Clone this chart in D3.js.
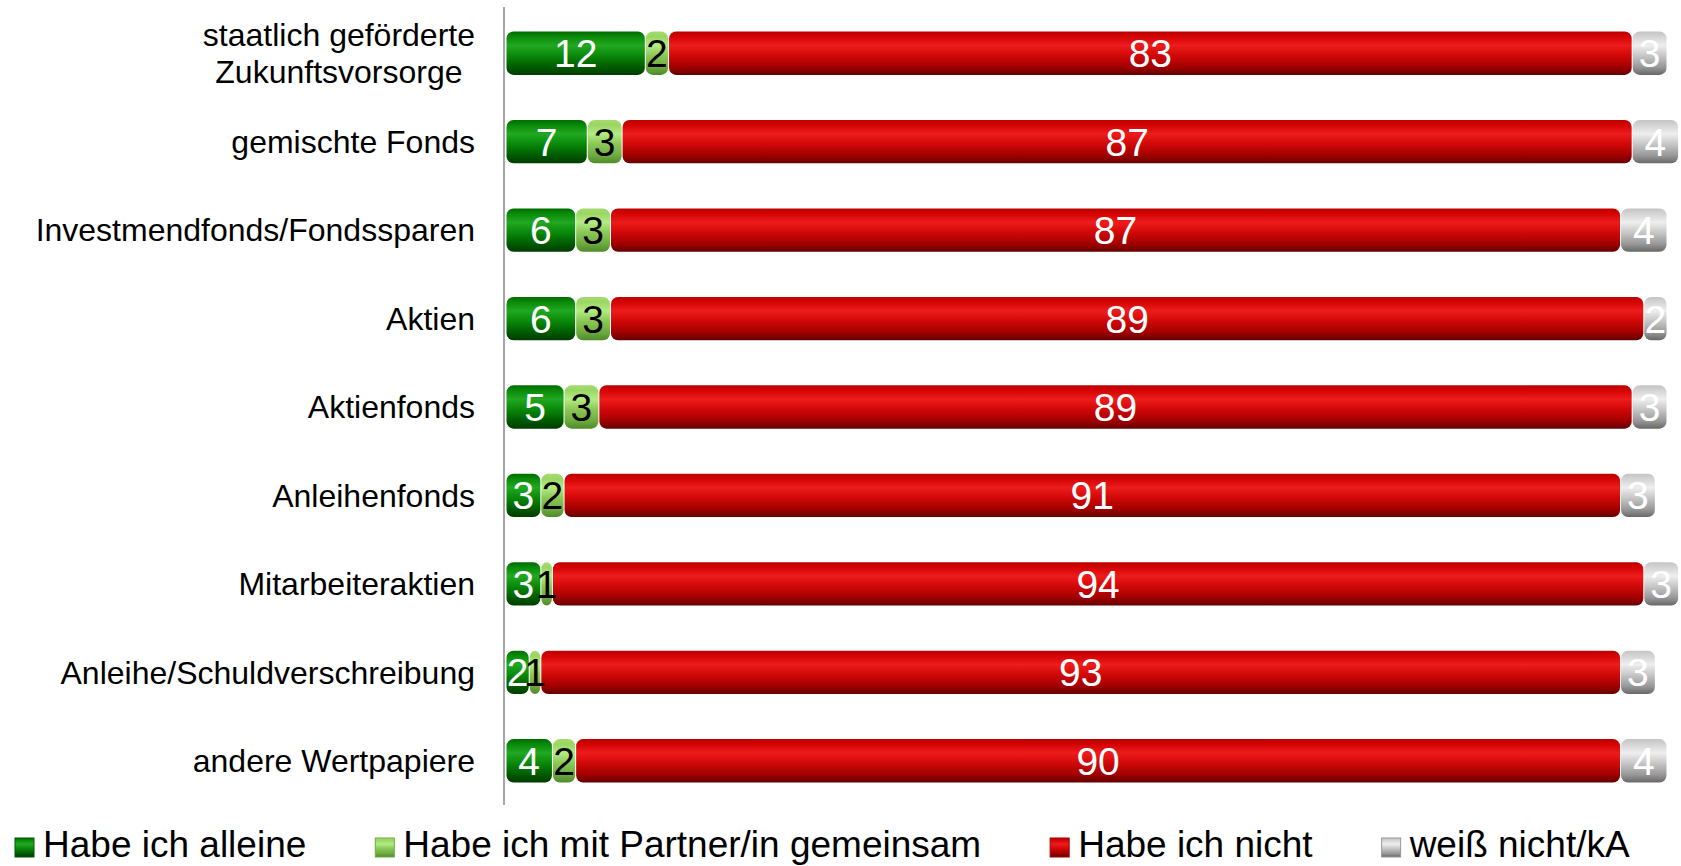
<!DOCTYPE html>
<html>
<head>
<meta charset="utf-8">
<title>Wertpapierbesitz</title>
<script src="https://d3js.org/d3.v7.min.js"></script>
<style>
    body { margin: 0; background: #fff; }
    text { font-family: "Liberation Sans", Arial, sans-serif; }
</style>
</head>
<body>
<script>
// categories (top to bottom)
var categories = [
    "staatlich geförderte\nZukunftsvorsorge",
    "gemischte Fonds",
    "Investmendfonds/Fondssparen",
    "Aktien",
    "Aktienfonds",
    "Anleihenfonds",
    "Mitarbeiteraktien",
    "Anleihe/Schuldverschreibung",
    "andere Wertpapiere"
];
var seriesNames = ["Habe ich alleine", "Habe ich mit Partner/in gemeinsam", "Habe ich nicht", "weiß nicht/kA"];
var alleine   = [12, 7, 6, 6, 5, 3, 3, 2, 4];
var partner   = [2, 3, 3, 3, 3, 2, 1, 1, 2];
var nicht     = [83, 87, 87, 89, 89, 91, 94, 93, 90];
var weissNicht = [3, 4, 4, 2, 3, 3, 3, 3, 4];

var seriesValues = [alleine, partner, nicht, weissNicht];
var textColors = ["#fff", "#000", "#fff", "#fff"];
// vertical gradient stops per series (3d bar look)
var gradStops = [
    ["#006c00", "#0a8a0a", "#22a822", "#0a8a0a", "#005a00", "#003c00"],
    ["#a4dc6c", "#9ad664", "#b4ec84", "#8cc858", "#6eaa40", "#4e8a28"],
    ["#bc0000", "#d40404", "#ee1c1c", "#d20808", "#a00000", "#640000"],
    ["#c4c4c4", "#d4d4d4", "#eeeeee", "#c8c8c8", "#989898", "#686868"]
];
var stopOffsets = ["0%", "12%", "32%", "55%", "82%", "100%"];

var W = 1681, H = 866;
var svg = d3.select("body").append("svg").attr("width", W).attr("height", H);

var defs = svg.append("defs");
gradStops.forEach(function(stops, i) {
    var g = defs.append("linearGradient").attr("id", "grad" + i)
        .attr("x1", "0%").attr("x2", "0%").attr("y1", "0%").attr("y2", "100%");
    stops.forEach(function(c, j) {
        g.append("stop").attr("offset", stopOffsets[j]).attr("stop-color", c);
    });
});

var x = d3.scaleLinear().domain([0, 100]).range([506, 1667]);
var y = d3.scaleBand().domain(categories).range([9, 805]).paddingInner(0.51).paddingOuter(0.255);

// stacked data
var rows = categories.map(function(c, i) {
    var acc = 0;
    return seriesValues.map(function(vals, s) {
        var seg = { cat: c, s: s, v: vals[i], x0: acc, x1: acc + vals[i] };
        acc += vals[i];
        return seg;
    });
});
var segs = [].concat.apply([], rows);

var bars = svg.append("g");
bars.selectAll("rect.bar")
    .data(segs)
    .enter().append("rect")
    .attr("class", "bar")
    .attr("x", function(d) { return x(d.x0) + 0.5; })
    .attr("y", function(d) { return y(d.cat); })
    .attr("width", function(d) { return Math.max(0, x(d.x1) - x(d.x0) - 1); })
    .attr("height", y.bandwidth())
    .attr("rx", 7).attr("ry", 7)
    .style("fill", function(d) { return "url(#grad" + d.s + ")"; });

bars.selectAll("text.val")
    .data(segs)
    .enter().append("text")
    .attr("class", "val")
    .attr("x", function(d) { return (x(d.x0) + x(d.x1)) / 2; })
    .attr("y", function(d) { return y(d.cat) + y.bandwidth() / 2; })
    .attr("dy", "0.36em")
    .attr("text-anchor", "middle")
    .style("font-size", "39px")
    .style("fill", function(d) { return textColors[d.s]; })
    .text(function(d) { return d.v; });

// axis line
svg.append("line")
    .attr("x1", 504).attr("x2", 504)
    .attr("y1", y.range()[0] - 2).attr("y2", y.range()[1])
    .style("stroke", "#a6a6a6").style("stroke-width", 2);

// category labels
var labels = svg.append("g");
categories.forEach(function(c) {
    var lines = c.split("\n");
    var lh = 37;
    var cy = y(c) + y.bandwidth() / 2;
    var t = labels.append("text")
        .attr("text-anchor", "middle")
        .style("font-size", "32px")
        .style("fill", "#000");
    lines.forEach(function(l, k) {
        t.append("tspan")
            .attr("x", 0)
            .attr("y", cy + (k - (lines.length - 1) / 2) * lh)
            .attr("dy", "0.35em")
            .text(l);
    });
    var bb = t.node().getBBox();
    t.attr("transform", "translate(" + (475 - bb.width / 2) + ",0)");
});

// legend
var legend = svg.append("g");
var lx = 15;
seriesNames.forEach(function(name, i) {
    legend.append("rect")
        .attr("x", lx).attr("y", 838)
        .attr("width", 19).attr("height", 19)
        .style("fill", "url(#grad" + i + ")")
        .style("stroke", gradStops[i][4]).style("stroke-width", 1);
    var t = legend.append("text")
        .attr("x", lx + 28).attr("y", 857)
        .style("font-size", "37px")
        .style("fill", "#000")
        .text(name);
    lx = lx + 28 + t.node().getComputedTextLength() + 69;
});
</script>
</body>
</html>
